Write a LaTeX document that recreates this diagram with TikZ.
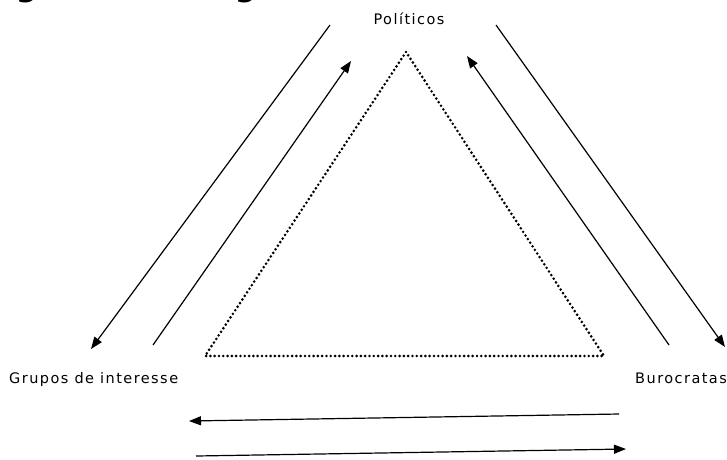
\documentclass[tikz,border=0pt]{standalone}
\usepackage{fontspec}
\setmainfont{DejaVu Sans}
\usetikzlibrary{arrows.meta}
\begin{document}
\begin{tikzpicture}[x=1pt,y=-1pt,
  lbl/.style={inner sep=0pt, font=\fontsize{14.5}{17}\selectfont\addfontfeature{LetterSpace=10}},
  flow/.style={line width=1.2pt, -{Triangle[length=12pt,width=9pt]}},
  tri/.style={line width=2.9pt, dash pattern=on 0pt off 4.3pt, line cap=round}]
\useasboundingbox (0,0) rectangle (727,459);
\clip (0,0) rectangle (727,459);
% clipped title
\node[anchor=base west, inner sep=0pt, font=\fontsize{30}{34}\selectfont\bfseries] (title) at (-15,-4) {Figura 1: Triângulo de ferro};
% labels
\node[lbl, anchor=base] (pol) at (409,24) {Políticos};
\node[lbl, anchor=base west] (gru) at (9,383) {Grupos de interesse};
\node[lbl, anchor=base west] (bur) at (635,383) {Burocratas};
% dotted triangle
\coordinate (ta) at (406,52);
\coordinate (tl) at (205,356);
\coordinate (tr) at (604,356);
\draw[tri] (ta) -- (tl) -- (tr) -- cycle;
% arrow endpoints
\coordinate (a1s) at (330,25);  \coordinate (a1e) at (91,349);
\coordinate (a2s) at (153,345); \coordinate (a2e) at (351,61);
\coordinate (a3s) at (669,345); \coordinate (a3e) at (467,56);
\coordinate (a4s) at (496,25);  \coordinate (a4e) at (725,347);
\coordinate (a5s) at (619,414); \coordinate (a5e) at (189,421);
\coordinate (a6s) at (196,456); \coordinate (a6e) at (626,449);
\draw[flow] (a1s) -- (a1e);
\draw[flow] (a2s) -- (a2e);
\draw[flow] (a3s) -- (a3e);
\draw[flow] (a4s) -- (a4e);
\draw[flow] (a5s) -- (a5e);
\draw[flow] (a6s) -- (a6e);
\end{tikzpicture}
\end{document}
